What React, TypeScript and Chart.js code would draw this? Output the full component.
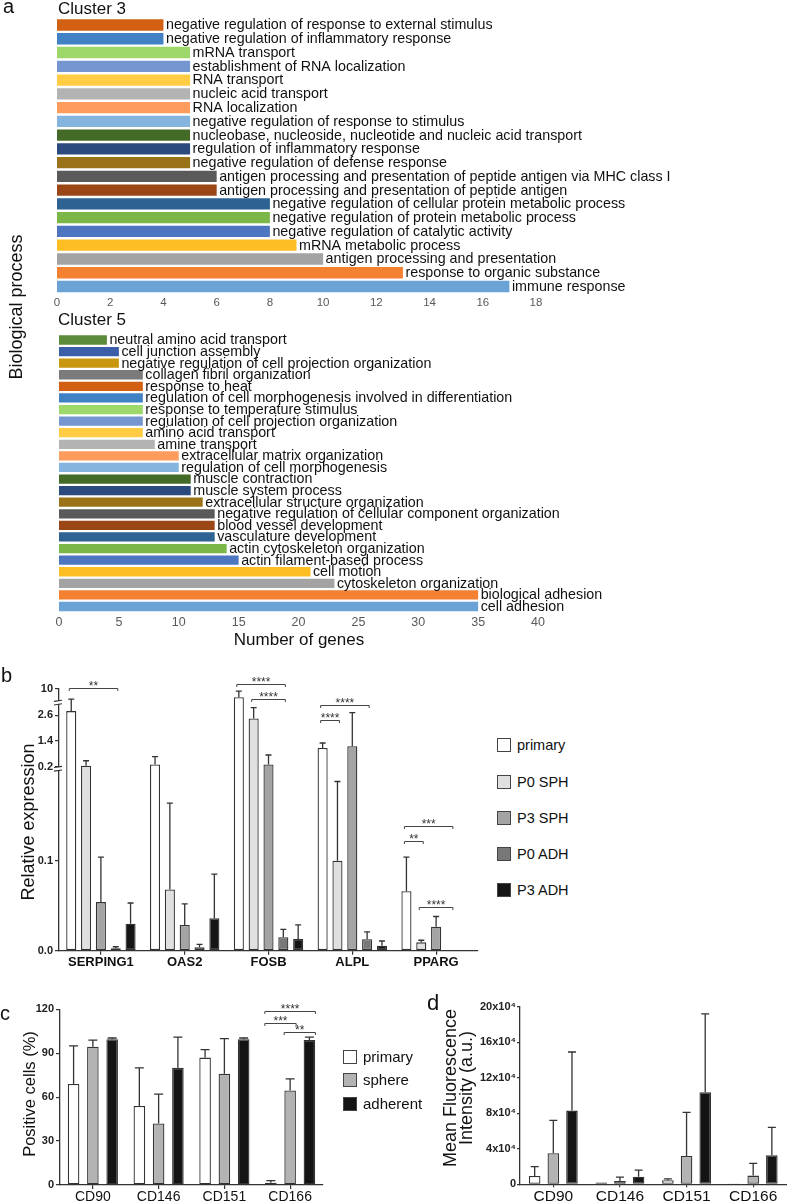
import React, { useEffect, useRef } from 'react';
import { Chart, registerables } from 'chart.js';

Chart.register(...registerables);

const FONT = '"Liberation Sans", Arial, Helvetica, sans-serif';
Chart.defaults.font.family = FONT;

// ---------------- Panel a : Cluster 3 ----------------
const cluster3Terms = [
  'negative regulation of response to external stimulus',
  'negative regulation of inflammatory response',
  'mRNA transport',
  'establishment of RNA localization',
  'RNA transport',
  'nucleic acid transport',
  'RNA localization',
  'negative regulation of response to stimulus',
  'nucleobase, nucleoside, nucleotide and nucleic acid transport',
  'regulation of inflammatory response',
  'negative regulation of defense response',
  'antigen processing and presentation of peptide antigen via MHC class I',
  'antigen processing and presentation of peptide antigen',
  'negative regulation of cellular protein metabolic process',
  'negative regulation of protein metabolic process',
  'negative regulation of catalytic activity',
  'mRNA metabolic process',
  'antigen processing and presentation',
  'response to organic substance',
  'immune response',
];
const cluster3Genes = [4, 4, 5, 5, 5, 5, 5, 5, 5, 5, 5, 6, 6, 8, 8, 8, 9, 10, 13, 17];
const cluster3Colors = [
  '#d26012', '#4282c4', '#9ed86a', '#7596d0', '#ffcc44', '#b3b3b3', '#fd9c5c', '#85b4de',
  '#436a27', '#2c4a7e', '#9a7318', '#5a5a5a', '#9a4617', '#2d6293', '#7ab648', '#4e75bf',
  '#fdbe23', '#a3a3a3', '#f48032', '#6ca3d6',
];
const cluster3Max = 18;
const cluster3Step = 2;

// ---------------- Panel a : Cluster 5 ----------------
const cluster5Terms = [
  'neutral amino acid transport',
  'cell junction assembly',
  'negative regulation of cell projection organization',
  'collagen fibril organization',
  'response to heat',
  'regulation of cell morphogenesis involved in differentiation',
  'response to temperature stimulus',
  'regulation of cell projection organization',
  'amino acid transport',
  'amine transport',
  'extracellular matrix organization',
  'regulation of cell morphogenesis',
  'muscle contraction',
  'muscle system process',
  'extracellular structure organization',
  'negative regulation of cellular component organization',
  'blood vessel development',
  'vasculature development',
  'actin cytoskeleton organization',
  'actin filament-based process',
  'cell motion',
  'cytoskeleton organization',
  'biological adhesion',
  'cell adhesion',
];
const cluster5Genes = [4, 5, 5, 7, 7, 7, 7, 7, 7, 8, 10, 10, 11, 11, 12, 13, 13, 13, 14, 15, 21, 23, 35, 35];
const cluster5Colors = [
  '#5b8c3a', '#3a5fa8', '#c8960f', '#7b7b7b', '#d26012', '#3f82c4', '#9ed86a', '#7596d0',
  '#ffcc44', '#b3b3b3', '#fd9c5c', '#85b4de', '#436a27', '#2c4a7e', '#9a7318', '#5a5a5a',
  '#9a4617', '#2d6293', '#7ab648', '#4e75bf', '#fdbe23', '#a3a3a3', '#f48032', '#6ca3d6',
];
const cluster5Max = 40;
const cluster5Step = 5;

// ---------------- Panel b ----------------
const bGenes = ['SERPING1', 'OAS2', 'FOSB', 'ALPL', 'PPARG'];
const bGroups = ['primary', 'P0 SPH', 'P3 SPH', 'P0 ADH', 'P3 ADH'];
const bColors = ['#ffffff', '#e0e0e0', '#a4a4a4', '#787878', '#151515'];
const bPrimary = [2.8, 0.31, 8.8, 1.08, 0.066];
const bP0SPH = [0.25, 0.068, 2.46, 0.1, 0.0093];
const bP3SPH = [0.054, 0.0286, 0.31, 1.16, 0.0267];
const bP0ADH = [0.0027, 0.0038, 0.0149, 0.0127, 0.0006];
const bP3ADH = [0.03, 0.036, 0.013, 0.0056, 0.0006];
const bPrimaryErr = [8.5, 0.67, 9.7, 1.31, 0.104];
const bP0SPHErr = [0.48, 0.164, 2.96, 0.188, 0.0116];
const bP3SPHErr = [0.104, 0.052, 0.75, 2.73, 0.038];
const bP0ADHErr = [0.0044, 0.0071, 0.0238, 0.021, 0.0006];
const bP3ADHErr = [0.053, 0.085, 0.0286, 0.0108, 0.0006];
const bTickValues = [0, 0.1, 0.2, 1.4, 2.6, 10];
const bTickLabels = ['0.0', '0.1', '0.2', '1.4', '2.6', '10'];
const bSigGene = [0, 2, 2, 3, 3, 4, 4, 4];
const bSigFrom = [0, 0, 1, 0, 0, 0, 0, 1];
const bSigTo = [3, 3, 3, 3, 1, 3, 1, 3];
const bSigLevel = [10.2, 10.8, 8.5, 3.08, 2.4, 0.139, 0.122, 0.049];
const bSigText = ['**', '****', '****', '****', '****', '***', '**', '****'];

// broken axis: 0-0.2 | 0.2-3.2 | 8-10
const bMap = (v: number) =>
  v < 0.2 ? v : v <= 3.2 ? 0.2044 + (v - 0.2) * 0.02378 : 0.2757 + (v - 8) * 0.00755;
const bBreaks = [0.2022, 0.2757];

// ---------------- Panel c ----------------
const cMarkers = ['CD90', 'CD146', 'CD151', 'CD166'];
const cGroups = ['primary', 'sphere', 'adherent'];
const cColors = ['#ffffff', '#b3b3b3', '#141414'];
const cPrimary = [69, 54, 87, 1.5];
const cSphere = [94.5, 42, 76, 64.5];
const cAdherent = [99.5, 80, 99.5, 99];
const cPrimaryErr = [95, 80, 92.5, 3];
const cSphereErr = [99, 62, 100, 72.5];
const cAdherentErr = [100.4, 101, 100.4, 101];
const cSigMarker = [3, 3, 3];
const cSigFrom = [0, 0, 1];
const cSigTo = [2, 1, 2];
const cSigLevel = [119, 110.9, 104.7];
const cSigText = ['****', '***', '**'];

// ---------------- Panel d ----------------
const dMarkers = ['CD90', 'CD146', 'CD151', 'CD166'];
const dPrimary = [9400, 1900, 4500, 200];
const dSphere = [35000, 3700, 32000, 9800];
const dAdherent = [83000, 8600, 103600, 32600];
const dPrimaryErr = [20000, 2500, 6000, 200];
const dSphereErr = [72000, 8000, 81000, 23600];
const dAdherentErr = [149000, 16000, 192000, 64000];

const identity = (v: number) => v;

// ---------------- plugins ----------------
const termLabelPlugin = (terms: string[], size: number) => ({
  id: 'termLabels',
  afterDatasetsDraw(chart: any) {
    const ctx = chart.ctx;
    const meta = chart.getDatasetMeta(0);
    ctx.save();
    ctx.font = `${size}px ${FONT}`;
    ctx.fillStyle = '#111';
    ctx.textAlign = 'left';
    ctx.textBaseline = 'middle';
    meta.data.forEach((el: any, i: number) => ctx.fillText(terms[i], el.x + 2.5, el.y + 0.5));
    ctx.restore();
  },
});

const errorPlugin = (errs: number[][], map: (v: number) => number, cap: number) => ({
  id: 'errorBars',
  afterDatasetsDraw(chart: any) {
    const ctx = chart.ctx;
    const y = chart.scales.y;
    ctx.save();
    ctx.strokeStyle = '#333';
    ctx.lineWidth = 1.3;
    errs.forEach((arr, di) => {
      const meta = chart.getDatasetMeta(di);
      arr.forEach((e, i) => {
        const el = meta.data[i];
        const yt = y.getPixelForValue(map(e));
        if (yt >= el.y - 0.8) return;
        ctx.beginPath();
        ctx.moveTo(el.x, el.y);
        ctx.lineTo(el.x, yt);
        ctx.moveTo(el.x - cap, yt);
        ctx.lineTo(el.x + cap, yt);
        ctx.stroke();
      });
    });
    ctx.restore();
  },
});

const bracketPlugin = (
  cats: number[], from: number[], to: number[], levels: number[], texts: string[],
  map: (v: number) => number, ext: number,
) => ({
  id: 'brackets',
  afterDatasetsDraw(chart: any) {
    const ctx = chart.ctx;
    const y = chart.scales.y;
    ctx.save();
    ctx.strokeStyle = '#444';
    ctx.fillStyle = '#333';
    ctx.lineWidth = 1;
    ctx.font = `12px ${FONT}`;
    ctx.textAlign = 'center';
    ctx.textBaseline = 'alphabetic';
    cats.forEach((c, k) => {
      const x1 = chart.getDatasetMeta(from[k]).data[c].x - ext;
      const x2 = chart.getDatasetMeta(to[k]).data[c].x + ext;
      const yy = Math.round(y.getPixelForValue(map(levels[k]))) + 0.5;
      ctx.beginPath();
      ctx.moveTo(x1, yy + 2.5);
      ctx.lineTo(x1, yy);
      ctx.lineTo(x2, yy);
      ctx.lineTo(x2, yy + 2.5);
      ctx.stroke();
      ctx.fillText(texts[k], (x1 + x2) / 2, yy + 1.5);
    });
    ctx.restore();
  },
});

const breakPlugin = {
  id: 'axisBreaks',
  afterDraw(chart: any) {
    const ctx = chart.ctx;
    const x = chart.chartArea.left;
    const y = chart.scales.y;
    ctx.save();
    bBreaks.forEach((b) => {
      const yy = y.getPixelForValue(b);
      ctx.fillStyle = '#fff';
      ctx.fillRect(x - 2, yy - 1.6, 4, 3.2);
      ctx.strokeStyle = '#333';
      ctx.lineWidth = 1.1;
      ctx.beginPath();
      ctx.moveTo(x - 5, yy - 1.2);
      ctx.lineTo(x + 3, yy - 2.4);
      ctx.moveTo(x - 5, yy + 2.4);
      ctx.lineTo(x + 3, yy + 1.2);
      ctx.stroke();
    });
    ctx.restore();
  },
};

// ---------------- configs ----------------
const axisGrid = (len: number) => ({
  display: true, drawOnChartArea: false, drawTicks: true, tickLength: len,
  color: '#333', lineWidth: 1.2, offset: false,
});
const axisBorder = { display: true, color: '#333', width: 1.3 };
const baseOptions = {
  responsive: false,
  animation: false as const,
  devicePixelRatio: 1,
  plugins: { legend: { display: false }, tooltip: { enabled: false }, title: { display: false } },
};

function clusterConfig(
  terms: string[], values: number[], colors: string[], max: number, step: number,
  padding: any, xHeight: number, tickSize: number, tickPad: number, barPct: number, labelSize: number,
) {
  return {
    type: 'bar' as const,
    data: {
      labels: terms,
      datasets: [{
        data: values, backgroundColor: colors, borderWidth: 0,
        barPercentage: barPct, categoryPercentage: 1,
      }],
    },
    options: {
      ...baseOptions,
      indexAxis: 'y' as const,
      layout: { padding },
      scales: {
        y: { display: false },
        x: {
          min: 0, max,
          ticks: { stepSize: step, color: '#595959', font: { family: FONT, size: tickSize }, padding: tickPad, maxRotation: 0, autoSkip: false },
          grid: { display: false, drawTicks: false },
          border: { display: false },
          afterFit: (s: any) => { s.height = xHeight; },
        },
      },
    },
    plugins: [termLabelPlugin(terms, labelSize)],
  };
}

function groupedDatasets(series: number[][], names: string[], colors: string[], map: (v: number) => number, catPct: number, barPct: number) {
  return series.map((s, i) => ({
    label: names[i],
    data: s.map(map),
    backgroundColor: colors[i],
    borderColor: '#333',
    borderWidth: 1.3,
    borderSkipped: false as const,
    categoryPercentage: catPct,
    barPercentage: barPct,
  }));
}

const bConfig = () => ({
  type: 'bar' as const,
  data: {
    labels: bGenes,
    datasets: groupedDatasets([bPrimary, bP0SPH, bP3SPH, bP0ADH, bP3ADH], bGroups, bColors, bMap, 0.885, 0.68),
  },
  options: {
    ...baseOptions,
    layout: { padding: { left: 0, right: 12, top: 29, bottom: 0 } },
    scales: {
      x: {
        grid: axisGrid(4), border: axisBorder,
        ticks: { color: '#111', font: { family: FONT, size: 13, weight: 'bold' as const }, padding: 0, maxRotation: 0, autoSkip: false },
        afterFit: (s: any) => { s.height = 29.3; },
      },
      y: {
        min: 0, max: bMap(10),
        afterBuildTicks: (s: any) => { s.ticks = bTickValues.map((v) => ({ value: bMap(v) })); },
        ticks: {
          callback: (_v: any, i: number) => bTickLabels[i],
          color: '#222', font: { family: FONT, size: 11, weight: 'bold' as const }, padding: 2, autoSkip: false,
        },
        grid: axisGrid(4), border: axisBorder,
        afterFit: (s: any) => { s.width = 59; },
      },
    },
  },
  plugins: [
    errorPlugin([bPrimaryErr, bP0SPHErr, bP3SPHErr, bP0ADHErr, bP3ADHErr], bMap, 3),
    bracketPlugin(bSigGene, bSigFrom, bSigTo, bSigLevel, bSigText, bMap, 2),
    breakPlugin,
  ],
});

const cConfig = () => ({
  type: 'bar' as const,
  data: {
    labels: cMarkers,
    datasets: groupedDatasets([cPrimary, cSphere, cAdherent], cGroups, cColors, identity, 0.88, 0.6),
  },
  options: {
    ...baseOptions,
    layout: { padding: { left: 0, right: 77, top: 19.3, bottom: 0 } },
    scales: {
      x: {
        grid: axisGrid(4), border: axisBorder,
        ticks: { color: '#111', font: { family: FONT, size: 14 }, padding: 0, maxRotation: 0, autoSkip: false },
        afterFit: (s: any) => { s.height = 19; },
      },
      y: {
        min: 0, max: 120,
        ticks: { stepSize: 30, color: '#222', font: { family: FONT, size: 11, weight: 'bold' as const }, padding: 2 },
        grid: axisGrid(4), border: axisBorder,
        afterFit: (s: any) => { s.width = 60; },
      },
    },
  },
  plugins: [
    errorPlugin([cPrimaryErr, cSphereErr, cAdherentErr], identity, 4.5),
    bracketPlugin(cSigMarker, cSigFrom, cSigTo, cSigLevel, cSigText, identity, 6),
  ],
});

const dConfig = () => ({
  type: 'bar' as const,
  data: {
    labels: dMarkers,
    datasets: groupedDatasets([dPrimary, dSphere, dAdherent], cGroups, cColors, identity, 0.84, 0.62),
  },
  options: {
    ...baseOptions,
    layout: { padding: { left: 0, right: 0.5, top: 16.7, bottom: 0 } },
    scales: {
      x: {
        grid: axisGrid(3), border: axisBorder,
        ticks: { color: '#111', font: { family: FONT, size: 15.5 }, padding: 0, maxRotation: 0, autoSkip: false },
        afterFit: (s: any) => { s.height = 19.7; },
      },
      y: {
        min: 0, max: 200000,
        ticks: {
          stepSize: 40000,
          callback: (v: any) => (v === 0 ? '0' : `${v / 10000}x10⁴`),
          color: '#222', font: { family: FONT, size: 11, weight: 'bold' as const }, padding: 1,
        },
        grid: axisGrid(3), border: axisBorder,
        afterFit: (s: any) => { s.width = 120; },
      },
    },
  },
  plugins: [errorPlugin([dPrimaryErr, dSphereErr, dAdherentErr], identity, 4)],
});

// ---------------- components ----------------
function ChartCanvas({ left, top, width, height, make }: any) {
  const ref = useRef<HTMLCanvasElement>(null);
  useEffect(() => {
    const chart = new Chart(ref.current as HTMLCanvasElement, make() as any);
    return () => chart.destroy();
  }, []);
  return (
    <canvas
      ref={ref}
      width={width}
      height={height}
      style={{ position: 'absolute', left, top, width, height }}
    />
  );
}

function Txt({ x, y, size, children, anchor = 'left', rotate = false, bold = false, lh = 1.15 }: any) {
  const tr = rotate
    ? 'translate(-50%,-50%) rotate(-90deg)'
    : anchor === 'center'
      ? 'translate(-50%,-50%)'
      : 'translate(0,-50%)';
  return (
    <div
      style={{
        position: 'absolute', left: x, top: y, transform: tr, fontFamily: FONT, fontSize: size,
        fontWeight: bold ? 'bold' : 'normal', lineHeight: lh,
        whiteSpace: 'nowrap', color: '#111', textAlign: 'center',
      }}
    >
      {children}
    </div>
  );
}

function LegendItem({ x, y, color, label, size, box }: any) {
  return (
    <>
      <div
        style={{
          position: 'absolute', left: x, top: y - box / 2, width: box - 2, height: box - 2,
          background: color, border: '1px solid #444',
        }}
      />
      <Txt x={x + box + 6} y={y} size={size}>{label}</Txt>
    </>
  );
}

export default function App() {
  const bLegendY = [745, 781.5, 817.7, 854, 890];
  const cLegendY = [1056.7, 1080, 1104];
  return (
    <div style={{ position: 'absolute', left: 0, top: 0, width: 787, height: 1204, background: '#fff', overflow: 'hidden' }}>
      <ChartCanvas
        left={0} top={0} width={787} height={310}
        make={() => clusterConfig(cluster3Terms, cluster3Genes, cluster3Colors, cluster3Max, cluster3Step,
          { left: 57, right: 251, top: 18.1, bottom: 2.6 }, 14, 11.5, 2.7, 0.82, 14.3)}
      />
      <ChartCanvas
        left={0} top={310} width={787} height={330}
        make={() => clusterConfig(cluster5Terms, cluster5Genes, cluster5Colors, cluster5Max, cluster5Step,
          { left: 59, right: 249, top: 24.2, bottom: 7.7 }, 20, 12.5, 3.2, 0.8, 14.3)}
      />
      <ChartCanvas left={0} top={660} width={490} height={320} make={bConfig} />
      <ChartCanvas left={0} top={990} width={400} height={214} make={cConfig} />
      <ChartCanvas left={400} top={990} width={387} height={214} make={dConfig} />

      <Txt x={3} y={6} size={20}>a</Txt>
      <Txt x={58} y={8.5} size={17}>Cluster 3</Txt>
      <Txt x={58} y={319.5} size={17}>Cluster 5</Txt>
      <Txt x={16} y={307} size={18} rotate>Biological process</Txt>
      <Txt x={299} y={640} size={17} anchor="center">Number of genes</Txt>

      <Txt x={1} y={675} size={20}>b</Txt>
      <Txt x={27.5} y={822} size={18} rotate>Relative expression</Txt>
      {bGroups.map((g, i) => (
        <LegendItem key={g} x={497} y={bLegendY[i]} color={bColors[i]} label={g} size={14.5} box={14} />
      ))}

      <Txt x={0} y={1013} size={20}>c</Txt>
      <Txt x={29} y={1094} size={16.5} rotate>Positive cells (%)</Txt>
      {cGroups.map((g, i) => (
        <LegendItem key={g} x={343} y={cLegendY[i]} color={cColors[i]} label={g} size={15} box={14} />
      ))}

      <Txt x={427} y={1003} size={22}>d</Txt>
      <Txt x={458} y={1088} size={18} rotate lh="16px">
        Mean Fluorescence<br />Intensity (a.u.)
      </Txt>
    </div>
  );
}
